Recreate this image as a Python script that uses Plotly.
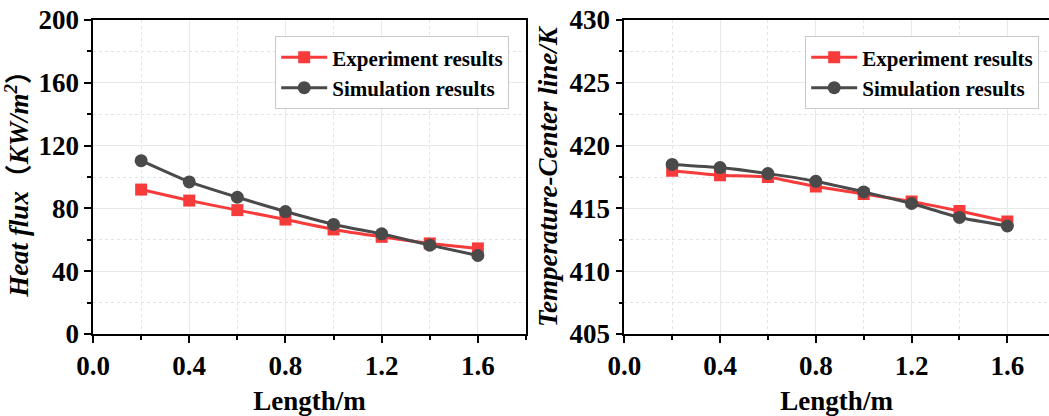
import plotly.graph_objects as go

length = [0.2, 0.4, 0.6, 0.8, 1.0, 1.2, 1.4, 1.6]
heat_exp = [92.0, 85.0, 78.9, 72.9, 66.6, 61.9, 57.7, 54.5]
heat_sim = [110.4, 96.9, 87.1, 78.0, 69.8, 63.8, 56.6, 50.0]
temp_exp = [418.0, 417.64, 417.5, 416.74, 416.15, 415.55, 414.8, 413.96]
temp_sim = [418.5, 418.25, 417.77, 417.16, 416.31, 415.39, 414.28, 413.6]
x_ticks = [0.0, 0.4, 0.8, 1.2, 1.6]
heat_ticks = [0, 40, 80, 120, 160, 200]
temp_ticks = [405, 410, 415, 420, 425, 430]

RED = "#F73B3B"
GRAY = "#4A4A4A"
FONT = "Liberation Serif"

fig = go.Figure()
for xa, ya, ys, leg in [("x", "y", (heat_exp, heat_sim), "legend"),
                        ("x2", "y2", (temp_exp, temp_sim), "legend2")]:
    fig.add_trace(go.Scatter(x=length, y=ys[0], xaxis=xa, yaxis=ya, mode="lines+markers",
                             name="Experiment results", legend=leg,
                             line=dict(color=RED, width=3, shape="spline", smoothing=0.4),
                             marker=dict(symbol="square", size=12, color=RED)))
    fig.add_trace(go.Scatter(x=length, y=ys[1], xaxis=xa, yaxis=ya, mode="lines+markers",
                             name="Simulation results", legend=leg,
                             line=dict(color=GRAY, width=3, shape="spline", smoothing=0.4),
                             marker=dict(symbol="circle", size=13, color=GRAY)))

tickfont = dict(family=FONT, size=27, color="black", weight="bold")
titlefont = dict(family=FONT, size=27, color="black", weight="bold")
common_x = dict(tickvals=x_ticks, tickformat=".1f", ticks="outside", ticklen=7, tickwidth=1.5,
                tickcolor="black", showline=True, linecolor="black", linewidth=1.5,
                showgrid=True, gridcolor="#E8E8E8", gridwidth=1, zeroline=False,
                minor=dict(dtick=0.2, tick0=0.2, ticks="outside", ticklen=4, tickcolor="black",
                           showgrid=True, gridcolor="#E4E4E4", griddash="dot"),
                tickfont=tickfont, automargin=False,
                title=dict(text="Length/m", font=titlefont, standoff=20))
common_y = dict(ticks="outside", ticklen=7, tickwidth=1.5, tickcolor="black",
                showline=True, linecolor="black", linewidth=1.5,
                showgrid=True, gridcolor="#E8E8E8", gridwidth=1, zeroline=False,
                tickfont=tickfont, automargin=False)
legfont = dict(family=FONT, size=21, color="black", weight="bold")

fig.update_layout(
    width=1049, height=416,
    margin=dict(l=0, r=0, t=0, b=0),
    paper_bgcolor="white", plot_bgcolor="white",
    xaxis=dict(domain=[0.0887, 0.5014], range=[0, 1.8], anchor="y", mirror=True, **common_x),
    yaxis=dict(domain=[0.1971, 0.9519], range=[0, 200], tickvals=heat_ticks, anchor="x", mirror=True,
               minor=dict(dtick=20, tick0=20, ticks="outside", ticklen=4, tickcolor="black",
                          showgrid=True, gridcolor="#E4E4E4", griddash="dot"),
               title=dict(text="<i>Heat flux</i>（<i>KW/m<sup>2</sup></i>）",
                          font=dict(family=FONT + ", Noto Sans CJK SC", size=27, color="black", weight="bold"),
                          standoff=5),
               **common_y),
    xaxis2=dict(domain=[0.5951, 1.0], range=[0, 1.774], anchor="y2", mirror=True, **common_x),
    yaxis2=dict(domain=[0.1971, 0.9519], range=[405, 430], tickvals=temp_ticks, anchor="x2", mirror=False,
                minor=dict(dtick=2.5, tick0=402.5, ticks="outside", ticklen=4, tickcolor="black",
                           showgrid=True, gridcolor="#E4E4E4", griddash="dot"),
                title=dict(text="<i>Temperature-Center line/K</i>",
                           font=dict(family=FONT, size=27, color="black", weight="bold"), standoff=4),
                **common_y),
    legend=dict(x=275/1049, y=1-36/416, xanchor="left", yanchor="top",
                bgcolor="white", bordercolor="#C8C8C8", borderwidth=1.2,
                font=legfont, tracegroupgap=0, itemwidth=46),
    legend2=dict(x=805/1049, y=1-36/416, xanchor="left", yanchor="top",
                 bgcolor="white", bordercolor="#C8C8C8", borderwidth=1.2,
                 font=legfont, tracegroupgap=0, itemwidth=46),
)

fig.write_html("out.html")
